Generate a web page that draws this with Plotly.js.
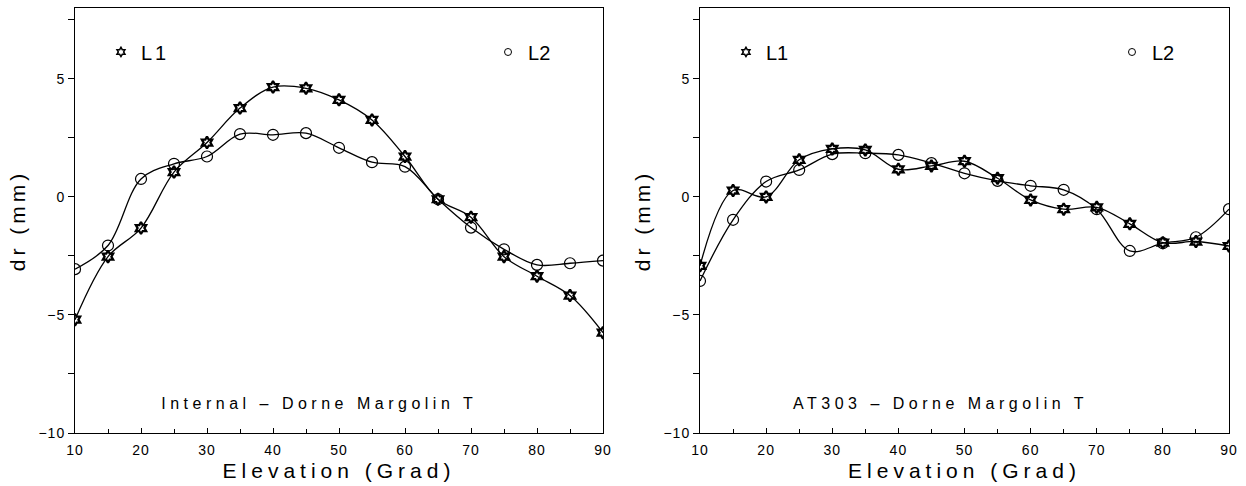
<!DOCTYPE html>
<html>
<head>
<meta charset="utf-8">
<script src="https://cdn.plot.ly/plotly-3.0.1.min.js"></script>
<style>
  html, body { margin: 0; padding: 0; background: #fff; }
  #chart { width: 1246px; height: 486px; }
  .main-svg text.xtitle, .main-svg text.x2title { letter-spacing: 5px; }
  .main-svg text.ytitle, .main-svg text.y2title { letter-spacing: 4px; }
  .main-svg text.annotation-text { letter-spacing: 4.5px; }
  .main-svg text.legendtext { letter-spacing: 3px; }
  .main-svg .xtick text, .main-svg .x2tick text, .main-svg .ytick text, .main-svg .y2tick text { letter-spacing: 1px; }
</style>
</head>
<body>
<div id="chart"></div>
<script>
// Elevation angles (Grad)
const elevation = [10, 15, 20, 25, 30, 35, 40, 45, 50, 55, 60, 65, 70, 75, 80, 85, 90];

// Left panel: Internal - Dorne Margolin T
const internalL1 = [-5.2, -2.53, -1.32, 1.05, 2.3, 3.76, 4.65, 4.6, 4.11, 3.26, 1.71, -0.1, -0.86, -2.53, -3.36, -4.18, -5.75];
const internalL2 = [-3.06, -2.06, 0.76, 1.4, 1.71, 2.66, 2.63, 2.7, 2.08, 1.47, 1.28, -0.1, -1.3, -2.22, -2.88, -2.81, -2.7];

// Right panel: AT303 - Dorne Margolin T
const at303L1 = [-2.92, 0.27, 0.0, 1.57, 2.03, 1.99, 1.17, 1.31, 1.51, 0.79, -0.13, -0.52, -0.44, -1.14, -1.94, -1.89, -2.08];
const at303L2 = [-3.56, -0.97, 0.65, 1.14, 1.81, 1.85, 1.78, 1.43, 1.0, 0.68, 0.47, 0.3, -0.52, -2.29, -1.96, -1.71, -0.52];

const panelTitles = ['Internal \u2013 Dorne Margolin T', 'AT303 \u2013 Dorne Margolin T'];
const seriesNames = ['L1', 'L2'];
const xTitle = 'Elevation (Grad)';
const yTitle = 'dr (mm)';

const FONT = 'Liberation Sans, Arial, sans-serif';
const starMarker = {symbol: 'hexagram-open', size: 9, color: '#000', line: {color: '#000', width: 2.3}};
const circleMarker = {symbol: 'circle-open', size: 11, color: '#000', line: {color: '#000', width: 1.2}};
const legendStar = {symbol: 'hexagram-open', size: 7, color: '#000', line: {color: '#000', width: 1.5}};
const legendCircle = {symbol: 'circle-open', size: 7, color: '#000', line: {color: '#000', width: 1}};

function panel(xa, ya, l1, l2, legA, legB) {
  return [
    {x: elevation, y: l1, xaxis: xa, yaxis: ya, mode: 'lines+markers', line: {shape: 'spline', smoothing: 1, color: '#000', width: 1.3}, marker: starMarker, showlegend: false, name: seriesNames[0]},
    {x: elevation, y: l2, xaxis: xa, yaxis: ya, mode: 'lines+markers', line: {shape: 'spline', smoothing: 1, color: '#000', width: 1.3}, marker: circleMarker, showlegend: false, name: seriesNames[1]},
    {x: [null], y: [null], xaxis: xa, yaxis: ya, mode: 'markers', marker: legendStar, name: seriesNames[0], legend: legA, showlegend: true},
    {x: [null], y: [null], xaxis: xa, yaxis: ya, mode: 'markers', marker: legendCircle, name: seriesNames[1], legend: legB, showlegend: true}
  ];
}

const data = [].concat(
  panel('x', 'y', internalL1, internalL2, 'legend', 'legend2'),
  panel('x2', 'y2', at303L1, at303L2, 'legend3', 'legend4')
);

function xaxis(domain, anchor) {
  return {
    domain: domain, anchor: anchor, range: [10, 90], tick0: 10, dtick: 10,
    ticks: 'inside', ticklen: 5, tickwidth: 1, tickcolor: '#000',
    minor: {dtick: 5, ticks: 'inside', ticklen: 4, tickcolor: '#000'},
    showline: true, linecolor: '#000', linewidth: 1, mirror: true,
    showgrid: false, zeroline: false, automargin: false,
    tickfont: {family: FONT, size: 14, color: '#000'},
    ticklabelstandoff: 4,
    title: {text: xTitle, font: {family: FONT, size: 21, color: '#000'}, standoff: 6}
  };
}
function yaxis(anchor) {
  return {
    domain: [0, 1], anchor: anchor, range: [-10, 8], tick0: 0, dtick: 5,
    ticks: 'outside', ticklen: 6, tickwidth: 1, tickcolor: '#000',
    minor: {dtick: 2.5, ticks: 'outside', ticklen: 6, tickcolor: '#000'},
    showline: true, linecolor: '#000', linewidth: 1, mirror: true,
    showgrid: false, zeroline: false, automargin: false,
    tickfont: {family: FONT, size: 14, color: '#000'},
    title: {text: yTitle, font: {family: FONT, size: 21, color: '#000'}, standoff: 10}
  };
}
function legendAt(x) {
  return {x: x, y: 0.8965, xanchor: 'left', yanchor: 'middle', orientation: 'h',
    bgcolor: 'rgba(0,0,0,0)', borderwidth: 0,
    font: {family: FONT, size: 20, color: '#000'}};
}

const layout = {
  width: 1246, height: 486,
  margin: {l: 75, r: 17, t: 8, b: 53},
  paper_bgcolor: '#fff', plot_bgcolor: '#fff',
  font: {family: FONT, color: '#000'},
  xaxis: xaxis([0, 0.45754], 'y'),
  yaxis: yaxis('x'),
  xaxis2: xaxis([0.54159, 1], 'y2'),
  yaxis2: yaxis('x2'),
  legend: legendAt(0.0225),
  legend2: legendAt(0.3579),
  legend3: legendAt(0.5641),
  legend4: legendAt(0.8986),
  annotations: [
    {xref: 'x', yref: 'y', x: 47, y: -8.76, text: panelTitles[0], showarrow: false, font: {family: FONT, size: 16, color: '#000'}},
    {xref: 'x2', yref: 'y2', x: 46.3, y: -8.76, text: panelTitles[1], showarrow: false, font: {family: FONT, size: 16, color: '#000'}}
  ]
};

Plotly.newPlot('chart', data, layout, {staticPlot: true, displayModeBar: false});
</script>
</body>
</html>
